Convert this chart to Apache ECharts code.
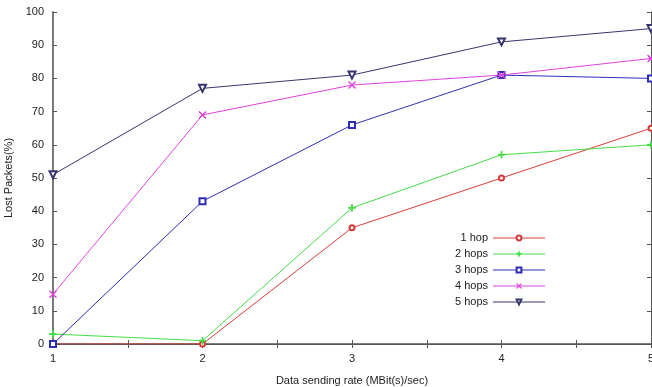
<!DOCTYPE html>
<html><head><meta charset="utf-8">
<script src="https://cdn.jsdelivr.net/npm/echarts@6/dist/echarts.min.js"></script>
<style>html,body{margin:0;padding:0;background:#fff}#c{width:652px;height:387px}</style>
</head><body><div id="c"></div>
<script>
const rates = [1, 2, 3, 4, 5];
const seriesNames = ['1 hop', '2 hops', '3 hops', '4 hops', '5 hops'];
const hop1 = [0, 0, 35, 50, 65];
const hop2 = [3, 1, 41, 57, 60];
const hop3 = [0, 43, 66, 81, 80];
const hop4 = [15, 69, 78, 81, 86];
const hop5 = [51, 77, 81, 91, 95];
const xTicks = ['1', '2', '3', '4', '5'];
const yTicks = [0, 10, 20, 30, 40, 50, 60, 70, 80, 90, 100];

const colors = ['#d83a3a', '#44dd44', '#2c2cb4', '#e040e0', '#35356e'];
const plusPath = 'path://M0,4.5L10,4.5L10,5.5L0,5.5ZM4.5,0L5.5,0L5.5,10L4.5,10Z';
const crossPath = 'path://M0,0.7L0.7,0L10,9.3L9.3,10ZM9.3,0L10,0.7L0.7,10L0,9.3Z';
const symbols = ['emptyCircle', plusPath, 'emptyRect', crossPath, 'emptyTriangle'];
const sizes = [5, 7, 6, 7, 7];
const rot = [0, 0, 0, 0, 180];
const all = [hop1, hop2, hop3, hop4, hop5];

const font = 'Liberation Sans, Arial, sans-serif';
const chart = echarts.init(document.getElementById('c'), null, {renderer: 'canvas'});
const axisCol = '#7a7a7a';
chart.setOption({
  animation: false,
  textStyle: {fontFamily: font},
  grid: {left: 53, right: 1, top: 12, bottom: 43, containLabel: false, outerBoundsMode: 'none'},
  xAxis: [{
    type: 'value', min: 1, max: 5, interval: 0.5, position: 'bottom',
    name: 'Data sending rate (MBit(s)/sec)', nameLocation: 'middle', nameGap: 31,
    nameTextStyle: {fontSize: 11, color: '#222', fontFamily: font},
    axisLine: {lineStyle: {color: '#555', width: 1.5}},
    axisTick: {inside: true, length: 4, lineStyle: {color: '#555'}},
    axisLabel: {fontSize: 11, color: '#222', margin: 9, fontFamily: font,
      formatter: v => Number.isInteger(v) ? xTicks[v - 1] : ''},
    splitLine: {show: false}
  }, {
    type: 'value', min: 1, max: 5, interval: 0.5, position: 'top',
    axisLine: {lineStyle: {color: '#555', width: 1}},
    axisTick: {inside: true, length: 4, lineStyle: {color: '#555'}},
    axisLabel: {show: false}, splitLine: {show: false}
  }],
  yAxis: [{
    type: 'value', min: 0, max: 100, interval: 10, position: 'left',
    name: 'Lost Packets(%)', nameLocation: 'middle', nameGap: 36, nameRotate: 90,
    nameTextStyle: {fontSize: 11, color: '#222', fontFamily: font},
    axisLine: {show: true, lineStyle: {color: axisCol, width: 2}},
    axisTick: {inside: true, length: 4, lineStyle: {color: '#555'}},
    axisLabel: {fontSize: 11, color: '#222', margin: 9, fontFamily: font,
      formatter: v => yTicks.includes(v) ? String(v) : ''},
    splitLine: {show: false}
  }, {
    type: 'value', min: 0, max: 100, interval: 10, position: 'right',
    axisLine: {show: true, lineStyle: {color: '#555', width: 1}},
    axisTick: {inside: true, length: 4, lineStyle: {color: '#555'}},
    axisLabel: {show: false}, splitLine: {show: false}
  }],
  legend: {
    orient: 'vertical', align: 'right', left: 443, top: 227,
    itemWidth: 52, itemHeight: 6, itemGap: 4,
    lineStyle: {width: 1},
    itemStyle: {borderWidth: 1},
    textStyle: {fontSize: 11, color: '#222', fontFamily: font, width: 40, align: 'right', lineHeight: 12},
    data: seriesNames
  },
  series: seriesNames.map((n, i) => ({
    name: n, type: 'line',
    data: rates.map((r, k) => [r, all[i][k]]),
    symbol: symbols[i], symbolSize: sizes[i], symbolRotate: rot[i],
    showAllSymbol: true,
    lineStyle: {color: colors[i], width: 1},
    itemStyle: {color: colors[i], borderColor: colors[i], borderWidth: 1},
    z: 2 + i
  }))
});
</script></body></html>
